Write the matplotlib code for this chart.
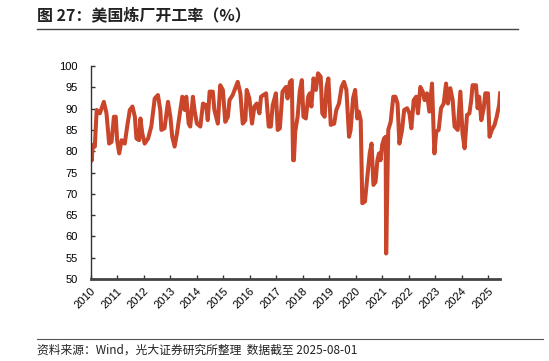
import matplotlib
matplotlib.use('Agg')
import matplotlib.pyplot as plt
import numpy as np

plt.rcParams['font.family'] = ['Liberation Sans', 'Noto Sans CJK SC', 'DejaVu Sans']

# weekly series (decimal year, utilisation %)
t = [2010.00, 2010.04, 2010.08, 2010.16, 2010.23, 2010.35, 2010.50, 2010.60, 2010.70, 2010.79,
     2010.88, 2010.95, 2011.00, 2011.08, 2011.17, 2011.29, 2011.38, 2011.48, 2011.58, 2011.67,
     2011.73, 2011.83, 2011.88, 2011.95, 2012.04, 2012.17, 2012.29, 2012.42, 2012.54, 2012.63,
     2012.67, 2012.79, 2012.92, 2013.01, 2013.08, 2013.17, 2013.26, 2013.33, 2013.46, 2013.55,
     2013.61, 2013.70, 2013.76, 2013.86, 2013.92, 2014.01, 2014.14, 2014.24, 2014.36, 2014.42,
     2014.49, 2014.61, 2014.67, 2014.80, 2014.89, 2014.99, 2015.08, 2015.18, 2015.24, 2015.36,
     2015.55, 2015.65, 2015.74, 2015.84, 2015.89, 2015.99, 2016.09, 2016.18, 2016.27, 2016.37,
     2016.43, 2016.52, 2016.62, 2016.72, 2016.80, 2016.87, 2016.99, 2017.06, 2017.14, 2017.24,
     2017.37, 2017.43, 2017.52, 2017.59, 2017.64, 2017.67, 2017.72, 2017.81, 2017.89, 2017.97,
     2018.03, 2018.12, 2018.21, 2018.27, 2018.33, 2018.41, 2018.50, 2018.58, 2018.68, 2018.74,
     2018.83, 2018.90, 2018.97, 2019.06, 2019.19, 2019.27, 2019.37, 2019.47, 2019.56, 2019.65,
     2019.75, 2019.81, 2019.90, 2019.98, 2020.06, 2020.12, 2020.19, 2020.25, 2020.35, 2020.44,
     2020.53, 2020.60, 2020.67, 2020.75, 2020.82, 2020.88, 2020.94, 2021.00, 2021.07, 2021.13,
     2021.15, 2021.23, 2021.32, 2021.42, 2021.50, 2021.58, 2021.65, 2021.75, 2021.83, 2021.94,
     2022.03, 2022.10, 2022.19, 2022.28, 2022.35, 2022.44, 2022.53, 2022.60, 2022.69, 2022.78,
     2022.88, 2022.97, 2023.04, 2023.13, 2023.22, 2023.32, 2023.41, 2023.48, 2023.57, 2023.66,
     2023.73, 2023.85, 2023.95, 2024.03, 2024.11, 2024.20, 2024.29, 2024.36, 2024.41, 2024.54,
     2024.60, 2024.66, 2024.74, 2024.83, 2024.89, 2024.99, 2025.05, 2025.14, 2025.24, 2025.32,
     2025.41, 2025.45]
v = [81.0, 77.8, 81.5, 81.1, 89.7, 88.9, 91.6, 88.9, 81.8, 82.2,
     88.1, 88.1, 82.6, 79.5, 82.6, 81.8, 85.8, 89.7, 90.5, 88.1,
     83.0, 82.6, 87.7, 84.2, 81.8, 83.0, 85.8, 92.4, 93.2, 89.7,
     85.0, 85.4, 91.6, 88.1, 83.4, 81.1, 84.2, 87.3, 92.8, 89.7,
     92.8, 86.5, 85.8, 92.8, 89.7, 86.5, 85.8, 91.2, 90.8, 87.3,
     94.0, 94.0, 89.7, 86.5, 95.5, 94.4, 86.9, 88.1, 92.0, 93.2,
     96.3, 93.6, 86.5, 87.3, 94.4, 92.4, 86.5, 90.5, 91.2, 88.9,
     92.8, 93.2, 93.6, 85.8, 85.8, 90.8, 93.6, 85.0, 85.4, 94.0,
     95.1, 92.4, 96.3, 96.7, 77.9, 77.9, 84.6, 88.1, 94.0, 96.7,
     88.1, 87.7, 92.8, 93.6, 90.5, 97.1, 94.4, 98.3, 97.5, 88.9,
     88.1, 95.1, 97.1, 86.2, 86.5, 89.7, 91.2, 95.1, 96.3, 94.4,
     83.4, 85.0, 92.4, 94.4, 87.7, 89.3, 87.3, 67.8, 68.2, 74.0,
     79.5, 81.8, 72.1, 72.8, 77.9, 79.5, 77.9, 81.5, 83.0, 83.4,
     56.0, 85.0, 86.9, 92.8, 92.8, 91.2, 81.8, 85.0, 89.7, 90.1,
     88.9, 85.4, 92.0, 92.8, 88.9, 95.1, 94.0, 92.0, 93.6, 89.3,
     95.9, 79.5, 84.6, 85.0, 90.1, 91.2, 95.9, 91.2, 94.8, 92.0,
     85.8, 85.0, 94.0, 84.2, 80.7, 88.5, 88.9, 92.0, 95.5, 95.5,
     90.1, 92.8, 87.3, 90.1, 93.6, 93.6, 83.4, 85.0, 86.2, 88.1,
     90.8, 93.6]
years = list(range(2010, 2026))
yticks = list(range(50, 101, 5))

fig = plt.figure(figsize=(5.49, 3.61), dpi=100)
ax = fig.add_axes([0.165, 0.227, 0.746, 0.590])
ax.plot(t, v, color='#C9462A', linewidth=2.9, solid_joinstyle='round')

ax.set_xlim(2010, 2025.45)
ax.set_ylim(50, 100)
ax.set_yticks(yticks)
ax.set_xticks(years)
ax.set_xticklabels([str(y) for y in years], rotation=45, ha='right', rotation_mode='anchor')
ax.tick_params(axis='both', direction='in', length=3, width=1, colors='#333333',
               labelcolor='black', labelsize=8)
ax.tick_params(axis='y', pad=9)
ax.tick_params(axis='x', pad=5)
for s in ['top', 'right']:
    ax.spines[s].set_visible(False)
ax.spines['left'].set_color('#333333')
ax.spines['left'].set_linewidth(1)
ax.spines['bottom'].set_color('#444444')
ax.spines['bottom'].set_linewidth(2)

fig.text(37 / 549, 1 - 15 / 361, '图 27：美国炼厂开工率（%）', fontsize=11.5, fontweight='bold',
         family=['Noto Sans CJK SC', 'DejaVu Sans'], va='center', ha='left', color='#222222')
fig.add_artist(plt.Line2D([37 / 549, 518 / 549], [1 - 29 / 361, 1 - 29 / 361],
                          color='#444444', linewidth=1))
fig.add_artist(plt.Line2D([37 / 549, 543 / 549], [1 - 339 / 361, 1 - 339 / 361],
                          color='#555555', linewidth=0.8))
fig.text(37 / 549, 1 - 350 / 361, '资料来源：Wind，光大证券研究所整理  数据截至 2025-08-01',
         fontsize=8.5, family=['Noto Sans CJK SC', 'DejaVu Sans'], va='center', ha='left',
         color='#222222')

fig.savefig('out.png', dpi=100)
